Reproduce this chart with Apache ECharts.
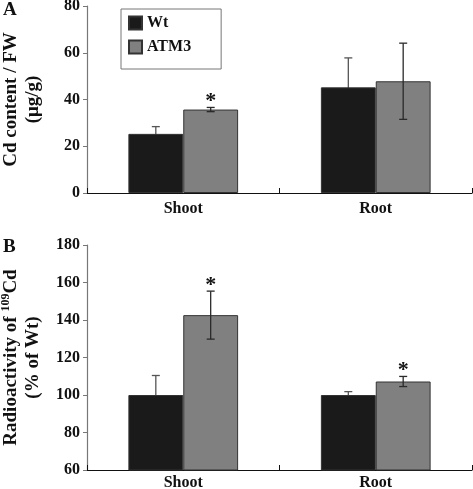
<!DOCTYPE html>
<html><head><meta charset="utf-8">
<script src="https://cdn.jsdelivr.net/npm/echarts@6/dist/echarts.min.js"></script>
<style>html,body{margin:0;padding:0;background:#fff}#c{width:473px;height:489px}</style>
</head><body><div id="c"></div>
<script>
var categories = ['Shoot', 'Root'];
var seriesNames = ['Wt', 'ATM3'];
// Panel A: Cd content / FW (µg/g)
var aWt = [25.3, 45.2];
var aWtErr = [3.1, 12.6];
var aAtm3 = [35.7, 47.8];
var aAtm3Err = [0.9, 16.3];
var aStar = [true, false];
// Panel B: Radioactivity of 109Cd (% of Wt)
var bWt = [100, 100];
var bWtErr = [10.4, 1.8];
var bAtm3 = [142.6, 107.2];
var bAtm3Err = [12.8, 2.7];
var bStar = [true, true];
var aTicks = {min: 0, max: 80, interval: 20};
var bTicks = {min: 60, max: 180, interval: 20};

var FONT = 'Liberation Serif';
var CAT_GAP = 0.43;

function errData(vals, errs, stars, which) {
  return vals.map(function (v, i) { return [i, v, errs[i], stars[i] ? 1 : 0, which]; });
}
function renderErr(params, api) {
  var xi = api.value(0), v = api.value(1), e = api.value(2), star = api.value(3), which = api.value(4);
  var band = api.size([1, 0])[0];
  var barW = band * (1 - CAT_GAP) / 2;
  var c = api.coord([xi, v]);
  var x = c[0] + (which === 0 ? -barW / 2 : barW / 2);
  var top = api.coord([xi, v + e])[1];
  var bot = api.coord([xi, v - e])[1];
  var cap = 4;
  var st = {stroke: which === 0 ? '#555' : '#2a2a2a', lineWidth: 1.3};
  var children = [
    {type: 'line', shape: {x1: x, y1: top, x2: x, y2: bot}, style: st},
    {type: 'line', shape: {x1: x - cap, y1: top, x2: x + cap, y2: top}, style: st},
    {type: 'line', shape: {x1: x - cap, y1: bot, x2: x + cap, y2: bot}, style: st}
  ];
  if (star) {
    children.push({type: 'text', style: {text: '*', x: x, y: top + 5, align: 'center', verticalAlign: 'bottom',
      font: 'bold 22px ' + FONT, fill: '#111'}});
  }
  return {type: 'group', children: children};
}

var labelStyle = {fontFamily: FONT, fontWeight: 'bold', fontSize: 16, color: '#111'};

function xAxisFor(gi, margin) {
  return {
    type: 'category', gridIndex: gi, data: categories,
    axisLine: {lineStyle: {color: '#111', width: 1.2}},
    axisTick: {show: true, inside: true, length: 5, lineStyle: {color: '#111'}},
    axisLabel: Object.assign({margin: margin}, labelStyle)
  };
}
function yAxisFor(gi, t, name, rich) {
  return {
    type: 'value', gridIndex: gi, min: t.min, max: t.max, interval: t.interval,
    axisLine: {show: true, lineStyle: {color: '#777', width: 1.2}},
    axisTick: {show: true, length: 4, lineStyle: {color: '#777'}},
    splitLine: {show: false},
    axisLabel: Object.assign({margin: 7}, labelStyle),
    name: name, nameLocation: 'middle', nameRotate: 90, nameGap: 43,
    nameTextStyle: {fontFamily: FONT, fontWeight: 'bold', fontSize: 19, color: '#111', lineHeight: 22, rich: rich || {}}
  };
}
function barSeries(name, data, gi, color) {
  return {
    name: name, type: 'bar', xAxisIndex: gi, yAxisIndex: gi, data: data, z: 2,
    barGap: '0%', barCategoryGap: (CAT_GAP * 100) + '%',
    itemStyle: {color: color, borderColor: '#333', borderWidth: 1}
  };
}
function errSeries(vals, errs, stars, which, gi) {
  return {
    type: 'custom', xAxisIndex: gi, yAxisIndex: gi, z: which === 0 ? 1 : 5,
    data: errData(vals, errs, stars, which), renderItem: renderErr
  };
}

var chart = echarts.init(document.getElementById('c'), null, {renderer: 'canvas'});
chart.setOption({
  animation: false,
  backgroundColor: '#fff',
  grid: [
    {left: 87, right: 1, top: 6, height: 187, containLabel: false, outerBoundsMode: 'none'},
    {left: 87, right: 1, top: 245, height: 225, containLabel: false, outerBoundsMode: 'none'}
  ],
  xAxis: [xAxisFor(0, 8), xAxisFor(1, 5)],
  yAxis: [
    yAxisFor(0, aTicks, 'Cd content / FW\n(\u03bcg/g)'),
    yAxisFor(1, bTicks, 'Radioactivity of {sup|109}Cd\n(% of Wt)', {
      sup: {fontFamily: FONT, fontWeight: 'bold', fontSize: 12, color: '#111', verticalAlign: 'top', lineHeight: 22, padding: [0, 0, 8, 0]}
    })
  ],
  legend: {
    data: seriesNames, orient: 'vertical', left: 121, top: 9,
    borderColor: '#777', borderWidth: 1, padding: [6, 30, 14, 7],
    icon: 'rect', itemWidth: 13, itemHeight: 13, itemGap: 8,
    textStyle: {fontFamily: FONT, fontWeight: 'bold', fontSize: 16, color: '#111'}
  },
  graphic: [
    {type: 'text', left: 3, top: 1, style: {text: 'A', font: 'bold 19px ' + FONT, fill: '#111'}},
    {type: 'text', left: 3, top: 238, style: {text: 'B', font: 'bold 19px ' + FONT, fill: '#111'}}
  ],
  series: [
    barSeries('Wt', aWt, 0, '#1a1a1a'),
    barSeries('ATM3', aAtm3, 0, '#808080'),
    barSeries('Wt', bWt, 1, '#1a1a1a'),
    barSeries('ATM3', bAtm3, 1, '#808080'),
    errSeries(aWt, aWtErr, [false, false], 0, 0),
    errSeries(aAtm3, aAtm3Err, aStar, 1, 0),
    errSeries(bWt, bWtErr, [false, false], 0, 1),
    errSeries(bAtm3, bAtm3Err, bStar, 1, 1)
  ]
});
</script></body></html>
